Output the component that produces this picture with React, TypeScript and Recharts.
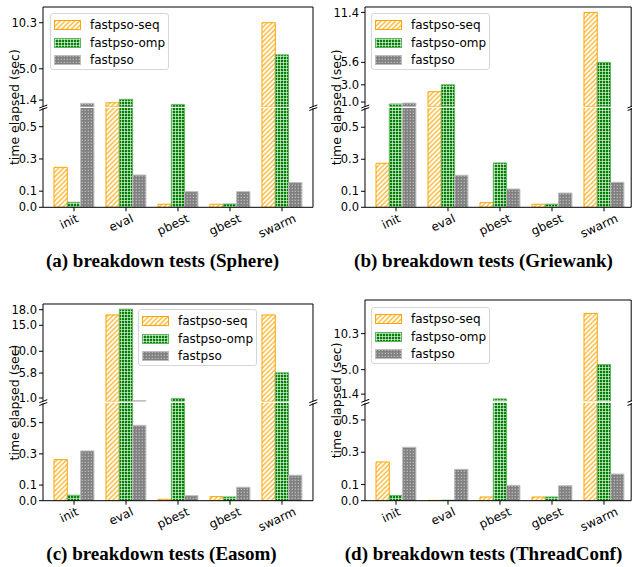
import React from 'react';
import { BarChart, Bar, XAxis, YAxis, CartesianGrid, Text } from 'recharts';

const categories = ['init', 'eval', 'pbest', 'gbest', 'swarm'];
const seriesNames = ['fastpso-seq', 'fastpso-omp', 'fastpso'];

// (a) Sphere
const sphereSeq = [0.248, 1.09, 0.019, 0.019, 10.3];
const sphereOmp = [0.031, 1.48, 0.9, 0.02, 6.6];
const sphereFast = [1.02, 0.2, 0.097, 0.097, 0.153];
const sphereTicks = [1.4, 5.0, 10.3];

// (b) Griewank
const griewankSeq = [0.275, 2.2, 0.029, 0.019, 11.4];
const griewankOmp = [0.77, 3.0, 0.277, 0.019, 5.6];
const griewankFast = [0.88, 0.2, 0.114, 0.089, 0.156];
const griewankTicks = [1.0, 3.0, 5.6, 11.4];

// (c) Easom
const easomSeq = [0.263, 17.0, 0.009, 0.026, 17.0];
const easomOmp = [0.035, 18.1, 0.88, 0.024, 5.85];
const easomFast = [0.319, 0.483, 0.032, 0.086, 0.163];
const easomTicks = [1.0, 5.8, 10.0, 15.0, 18.0];

// (d) ThreadConf
const threadSeq = [0.24, 0.002, 0.023, 0.023, 13.27];
const threadOmp = [0.033, 0.003, 0.7, 0.023, 5.74];
const threadFast = [0.331, 0.194, 0.095, 0.093, 0.165];
const threadTicks = [1.4, 5.0, 10.3];

const lowTicks = [0, 0.1, 0.3, 0.5];

const FONT = '"DejaVu Sans", sans-serif';

const SERIES = [
  { key: 'seq', fill: 'url(#pat-seq)', stroke: '#FFA500' },
  { key: 'omp', fill: 'url(#pat-omp)', stroke: '#5fb35f' },
  { key: 'fast', fill: 'url(#pat-fast)', stroke: '#bcbcbc' },
];

// layout of the four subplots (page pixels)
const PANELS = [
  {
    title: '(a) breakdown tests (Sphere)', seq: sphereSeq, omp: sphereOmp, fast: sphereFast, ticks: sphereTicks,
    high: [0.6, 12.11], lowMax: 0.616, left: 43.3, right: 313.3, pad: { left: 5, right: 5 },
    highTop: 7, highBottom: 107, lowTop: 108, lowBottom: 207.3, legend: [50, 13], capX: 162.5, capY: 260,
  },
  {
    title: '(b) breakdown tests (Griewank)', seq: griewankSeq, omp: griewankOmp, fast: griewankFast, ticks: griewankTicks,
    high: [0.46, 12.03], lowMax: 0.62, left: 365.3, right: 631.5, pad: { left: 5, right: 1.2 },
    highTop: 7.3, highBottom: 107, lowTop: 108, lowBottom: 207.3, legend: [371, 13], capX: 483.5, capY: 260,
  },
  {
    title: '(c) breakdown tests (Easom)', seq: easomSeq, omp: easomOmp, fast: easomFast, ticks: easomTicks,
    high: [0.35, 19.1], lowMax: 0.626, left: 43.3, right: 313.3, pad: { left: 5, right: 5 },
    highTop: 304.3, highBottom: 401.7, lowTop: 403, lowBottom: 500.7, legend: [138, 309], capX: 161.5, capY: 553,
  },
  {
    title: '(d) breakdown tests (ThreadConf)', seq: threadSeq, omp: threadOmp, fast: threadFast, ticks: threadTicks,
    high: [0.35, 15.24], lowMax: 0.605, left: 365.3, right: 631.5, pad: { left: 5, right: 1.2 },
    highTop: 300, highBottom: 401.3, lowTop: 403, lowBottom: 500.7, legend: [371, 307], capX: 483.5, capY: 553,
  },
];

const fmt = (v: number) => v.toFixed(1);

let ctx: CanvasRenderingContext2D | null = null;
const textWidth = (s: string) => {
  if (!ctx) ctx = document.createElement('canvas').getContext('2d');
  if (!ctx) return s.length * 7;
  ctx.font = '12px "DejaVu Sans"';
  return ctx.measureText(s).width;
};

// matplotlib-like rotated label: rotated box centred under the tick, top aligned
const renderTick = (props: any) => {
  const { x, y, payload } = props;
  const a = (25 * Math.PI) / 180;
  const w = textWidth(String(payload.value));
  const cx = x - 5;
  const cy = y + (w * Math.sin(a) + 9 * Math.cos(a)) / 2;
  return (
    <Text x={cx} y={cy} angle={-25} textAnchor="middle" verticalAnchor="middle" fontSize={12}
      fontFamily={FONT} fill="#000">
      {payload.value}
    </Text>
  );
};

const Patterns = () => (
  <svg width={0} height={0} style={{ position: 'absolute' }}>
    <defs>
      <pattern id="pat-seq" width={3.4} height={3.4} patternUnits="userSpaceOnUse" patternTransform="rotate(45)">
        <rect width={3.4} height={3.4} fill="#fff" />
        <line x1={1.7} y1={0} x2={1.7} y2={3.4} stroke="#FFA500" strokeWidth={1.1} />
      </pattern>
      <pattern id="pat-omp" width={3} height={3} patternUnits="userSpaceOnUse">
        <rect width={3} height={3} fill="#008000" />
        <path d="M0 1.5H3M1.5 0V3" stroke="#fff" strokeWidth={0.6} />
      </pattern>
      <pattern id="pat-fast" width={3} height={3} patternUnits="userSpaceOnUse">
        <rect width={3} height={3} fill="#808080" />
        <rect x={0.6} y={0.8} width={1.4} height={0.8} fill="#dcdcdc" />
      </pattern>
    </defs>
  </svg>
);

const Breakdown = ({ cfg }: { cfg: any }) => {
  const rows = categories.map((name, i) => ({ name, seq: cfg.seq[i], omp: cfg.omp[i], fast: cfg.fast[i] }));
  // the upper panel only shows bars that reach above its floor
  const floor = cfg.high[0];
  const highRows = rows.map((r) => ({
    name: r.name,
    seq: r.seq >= floor ? r.seq : null,
    omp: r.omp >= floor ? r.omp : null,
    fast: r.fast >= floor ? r.fast : null,
  }));
  const plotW = cfg.right - cfg.left;
  const chartLeft = cfg.left - 40;
  const chartW = 40 + plotW + 1;
  const highH = cfg.highBottom - cfg.highTop;
  const lowH = cfg.lowBottom - cfg.lowTop;
  const bars = SERIES.map((s) => (
    <Bar key={s.key} dataKey={s.key} fill={s.fill} stroke={s.stroke} strokeWidth={1} isAnimationActive={false} />
  ));
  return (
    <>
      <div style={{ position: 'absolute', left: chartLeft, top: cfg.lowTop - 2 }}>
        <BarChart width={chartW} height={lowH + 2 + 40} data={rows} barGap={0} barSize={13.3}
          margin={{ top: 2, right: 1, bottom: 0, left: 10 }}>
          <CartesianGrid stroke="#000" horizontal={false} verticalPoints={[40 + plotW]} />
          <XAxis dataKey="name" height={40} padding={cfg.pad} interval={0} tickSize={4} tickMargin={2}
            tick={renderTick} axisLine={{ stroke: '#000' }} tickLine={{ stroke: '#000' }} />
          <YAxis width={30} domain={[0, cfg.lowMax]} ticks={lowTicks} allowDataOverflow tickFormatter={fmt}
            tickSize={4} tickMargin={2} interval={0}
            tick={{ fontSize: 11.5, fill: '#000', fontFamily: FONT }}
            axisLine={{ stroke: '#000' }} tickLine={{ stroke: '#000' }} />
          {bars}
        </BarChart>
      </div>
      <div style={{ position: 'absolute', left: chartLeft, top: cfg.highTop - 6 }}>
        <BarChart width={chartW} height={highH + 12} data={highRows} barGap={0} barSize={13.3}
          margin={{ top: 6, right: 1, bottom: 6, left: 10 }}>
          <CartesianGrid stroke="#000" horizontalPoints={[6]} verticalPoints={[40 + plotW]} />
          <XAxis dataKey="name" hide padding={cfg.pad} />
          <YAxis width={30} domain={cfg.high} ticks={cfg.ticks} allowDataOverflow tickFormatter={fmt}
            tickSize={4} tickMargin={2} interval={0}
            tick={{ fontSize: 11.5, fill: '#000', fontFamily: FONT }}
            axisLine={{ stroke: '#000' }} tickLine={{ stroke: '#000' }} />
          {bars}
        </BarChart>
      </div>
      <div style={{
        position: 'absolute', left: cfg.legend[0], top: cfg.legend[1], width: 119, height: 57,
        boxSizing: 'border-box', border: '1px solid #d6d6d6', borderRadius: 3,
        background: 'rgba(255,255,255,0.8)', fontFamily: FONT, fontSize: 12, color: '#000',
      }}>
        {SERIES.map((s, i) => (
          <div key={s.key} style={{ position: 'absolute', left: 3, top: 3 + i * 17.5, height: 16, display: 'flex', alignItems: 'center' }}>
            <svg width={27} height={10}>
              <rect x={0.5} y={0.5} width={26} height={9} fill={s.fill} stroke={s.stroke} />
            </svg>
            <span style={{ marginLeft: 9, whiteSpace: 'nowrap' }}>{seriesNames[i]}</span>
          </div>
        ))}
      </div>
    </>
  );
};

const Overlay = () => (
  <svg width={632} height={567} style={{ position: 'absolute', left: 0, top: 0, pointerEvents: 'none' }}>
    {PANELS.map((p, i) => {
      const labelX = p.left - 29;
      const labelY = (p.highTop + p.lowBottom) / 2;
      const marks = [p.left, p.right].flatMap((x) => [
        <line key={`${x}-h`} x1={x - 4} y1={p.highBottom + 1} x2={x + 4} y2={p.highBottom - 2} stroke="#000" />,
        <line key={`${x}-l`} x1={x - 4} y1={p.lowTop + 2.5} x2={x + 4} y2={p.lowTop - 0.5} stroke="#000" />,
      ]);
      return (
        <g key={i}>
          {marks}
          <text x={labelX} y={labelY} textAnchor="middle" dominantBaseline="central" fontSize={12.5}
            fontFamily={FONT} transform={`rotate(-90, ${labelX}, ${labelY})`}>
            time elapsed (sec)
          </text>
          <text x={p.capX} y={p.capY} textAnchor="middle" dominantBaseline="central" fontSize={19}
            fontWeight="bold" fontFamily='"Liberation Serif", serif'>
            {p.title}
          </text>
        </g>
      );
    })}
  </svg>
);

export default function App() {
  return (
    <div style={{ position: 'absolute', left: 0, top: 0, width: 632, height: 567, overflow: 'hidden', background: '#fff' }}>
      <Patterns />
      {PANELS.map((p, i) => (
        <Breakdown key={i} cfg={p} />
      ))}
      <Overlay />
    </div>
  );
}
